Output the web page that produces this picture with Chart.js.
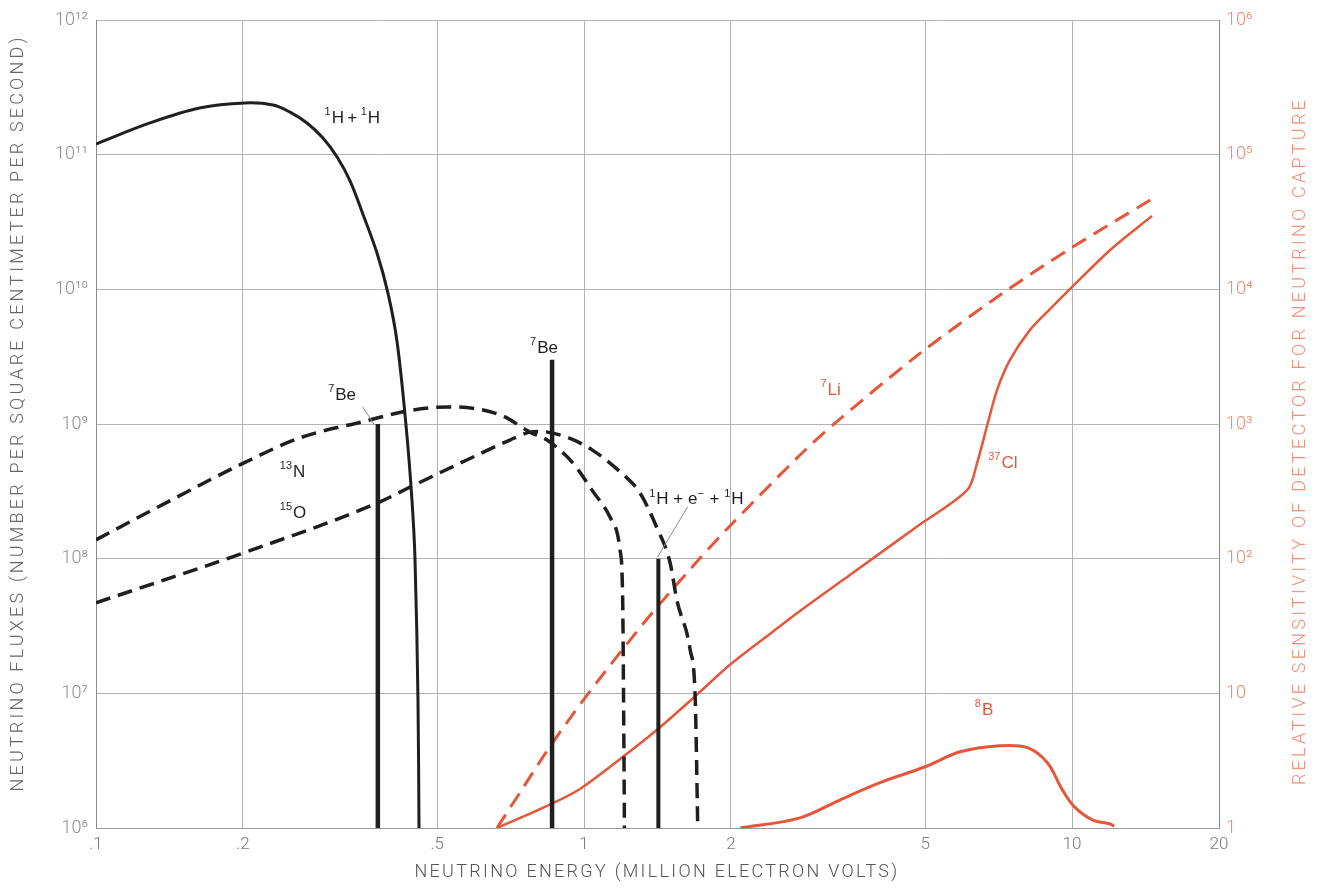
<!DOCTYPE html>
<html>
<head>
<meta charset="utf-8">
<script src="https://cdn.jsdelivr.net/npm/chart.js@4.4.1/dist/chart.umd.min.js"></script>
<style>
  html, body { margin: 0; padding: 0; background: #fff; }
  #wrap { width: 1318px; height: 894px; }
</style>
</head>
<body>
<div id="wrap"><canvas id="nuChart"></canvas></div>
<script>
// ---- axis ticks ----
var energyTicks = [0.1, 0.2, 0.5, 1, 2, 5, 10, 20];
var energyTickLabels = [".1", ".2", ".5", "1", "2", "5", "10", "20"];
var fluxTicks = [1e6, 1e7, 1e8, 1e9, 1e10, 1e11, 1e12];
var fluxTickLabels = ["10\u2076", "10\u2077", "10\u2078", "10\u2079", "10\u00b9\u2070", "10\u00b9\u00b9", "10\u00b9\u00b2"];
var sensTicks = [1, 10, 100, 1e3, 1e4, 1e5, 1e6];
var sensTickLabels = ["1", "10", "10\u00b2", "10\u00b3", "10\u2074", "10\u2075", "10\u2076"];

// ---- neutrino fluxes (left axis) ----
var ppEnergy = [0.1, 0.129, 0.163, 0.202, 0.2306, 0.2497, 0.2706, 0.2918, 0.3119, 0.3315, 0.3525, 0.3765, 0.3967, 0.4138, 0.4317, 0.4441, 0.4504, 0.4568, 0.459];
var ppFlux = [1.2e11, 1.72e11, 2.22e11, 2.42e11, 2.34e11, 2.07e11, 1.72e11, 1.33e11, 9.6e10, 6.4e10, 3.6e10, 1.86e10, 9.3e9, 4.1e9, 9.8e8, 2.7e8, 1e8, 9e6, 1e6];

var n13Energy = [0.1, 0.142, 0.2, 0.262, 0.352, 0.44, 0.53, 0.673, 0.775, 0.84, 0.95, 1.04, 1.13, 1.185, 1.2, 1.205, 1.21];
var n13Flux = [1.38e8, 2.7e8, 5.1e8, 7.9e8, 1.04e9, 1.26e9, 1.34e9, 1.17e9, 8.7e8, 7.6e8, 5.1e8, 3.2e8, 2.04e8, 1.16e8, 4.9e7, 9e6, 1e6];

var o15Energy = [0.1, 0.2, 0.378, 0.44, 0.575, 0.705, 0.775, 0.81, 0.92, 1.04, 1.17, 1.3, 1.41, 1.5, 1.55, 1.65, 1.69, 1.71];
var o15Flux = [4.7e7, 1.1e8, 2.6e8, 3.4e8, 5.4e8, 7.6e8, 8.7e8, 8.8e8, 8.0e8, 6.4e8, 4.6e8, 3.1e8, 1.7e8, 9.4e7, 4.9e7, 2.1e7, 8.9e6, 1e6];

var be7LineEnergy = [0.378, 0.86];
var be7LineFlux = [1e9, 3e9];
var pepLineEnergy = 1.42;
var pepLineFlux = 1e8;

var b8Energy = [2.09, 2.77, 3.35, 4.04, 5.0, 5.9, 7.1, 8.1, 8.9, 9.55, 10.1, 11.0, 11.97, 12.2];
var b8Flux = [1e6, 1.19e6, 1.62e6, 2.17e6, 2.85e6, 3.68e6, 4.08e6, 3.95e6, 3.05e6, 1.92e6, 1.44e6, 1.15e6, 1.07e6, 1.03e6];

// ---- detector sensitivity (right axis) ----
var li7Energy = [0.663, 0.75, 0.84, 0.95, 1.079, 1.225, 1.385, 1.729, 1.972, 2.771, 3.236, 4.835, 7.12, 9.81, 14.58];
var li7Sens = [1, 1.99, 3.74, 7.05, 13.0, 23.3, 40.3, 101, 169, 589, 985, 3.26e3, 9.08e3, 1.96e4, 4.69e4];

var cl37Energy = [0.663, 0.84, 0.981, 1.202, 1.411, 1.689, 1.99, 2.4, 2.81, 3.51, 4.83, 6.1, 6.38, 6.73, 7.02, 7.46, 8.2, 9.02, 9.86, 11.97, 14.58];
var cl37Sens = [1, 1.46, 1.95, 3.38, 5.36, 9.5, 16.3, 27.5, 42.4, 75.9, 175, 324, 506, 1.04e3, 1.79e3, 2.99e3, 5.0e3, 7.16e3, 9.9e3, 1.96e4, 3.51e4];

var BLACK = "#1f1f1f";
var RED = "#e4573a";
var TEXT_FONT = "'Liberation Sans', Arial, sans-serif";
var AXIS_FONT = "Roboto, 'Liberation Sans', sans-serif";

// labels on the curves, placed in data coordinates
var notes = [
  { text: "^{1}H\u2009+\u2009^{1}H", x: 0.294, y: 1.86e11, color: BLACK },
  { text: "^{7}Be", x: 0.299, y: 1.64e9, color: BLACK },
  { text: "^{13}N", x: 0.238, y: 4.4e8, color: BLACK },
  { text: "^{15}O", x: 0.238, y: 2.19e8, color: BLACK },
  { text: "^{7}Be", x: 0.775, y: 3.67e9, color: BLACK },
  { text: "^{1}H + e^{\u2212} + ^{1}H", x: 1.36, y: 2.74e8, color: BLACK },
  { text: "^{7}Li", x: 3.05, y: 1.79e9, color: RED },
  { text: "^{37}Cl", x: 6.73, y: 5.1e8, color: RED },
  { text: "^{8}B", x: 6.32, y: 7.5e6, color: RED }
];
var leaders = [
  { x1: 0.352, y1: 1.34e9, x2: 0.372, y2: 9.85e8 },
  { x1: 1.63, y1: 2.42e8, x2: 1.415, y2: 1.03e8 }
];

// axis titles: text, centre, span to fill, rotation
var axisTitles = [
  { text: "NEUTRINO ENERGY (MILLION ELECTRON VOLTS)", cx: 657, cy: 872, span: 485, rot: 0, color: "#555" },
  { text: "NEUTRINO FLUXES (NUMBER PER SQUARE CENTIMETER PER SECOND)", cx: 18, cy: 413, span: 757, rot: -Math.PI / 2, color: "#666" },
  { text: "RELATIVE SENSITIVITY OF DETECTOR FOR NEUTRINO CAPTURE", cx: 1300, cy: 441, span: 688, rot: -Math.PI / 2, color: "#f0907a" }
];

function pts(xs, ys) {
  return xs.map(function (v, i) { return { x: v, y: ys[i] }; });
}
function stem(x, top) {
  return [{ x: x, y: 1e6 }, { x: x, y: top }];
}

function drawRich(ctx, str, x, y, size, color) {
  var parts = str.split(/(\^\{[^}]*\})/);
  ctx.fillStyle = color;
  ctx.textBaseline = "middle";
  ctx.textAlign = "left";
  parts.forEach(function (p) {
    if (!p) return;
    if (p.indexOf("^{") === 0) {
      var s = p.slice(2, -1);
      ctx.font = Math.round(size * 0.62) + "px " + TEXT_FONT;
      ctx.fillText(s, x, y - size * 0.36);
      x += ctx.measureText(s).width + 1;
    } else {
      ctx.font = size + "px " + TEXT_FONT;
      ctx.fillText(p, x, y);
      x += ctx.measureText(p).width;
    }
  });
}

var notesPlugin = {
  id: "notes",
  afterDatasetsDraw: function (chart) {
    var ctx = chart.ctx, sx = chart.scales.x, sy = chart.scales.y;
    ctx.save();
    ctx.strokeStyle = "#8a8a8a";
    ctx.lineWidth = 1;
    leaders.forEach(function (l) {
      ctx.beginPath();
      ctx.moveTo(sx.getPixelForValue(l.x1), sy.getPixelForValue(l.y1));
      ctx.lineTo(sx.getPixelForValue(l.x2), sy.getPixelForValue(l.y2));
      ctx.stroke();
    });
    notes.forEach(function (n) {
      drawRich(ctx, n.text, sx.getPixelForValue(n.x), sy.getPixelForValue(n.y), 17, n.color);
    });
    ctx.restore();
  },
  afterDraw: function (chart) {
    var ctx = chart.ctx;
    axisTitles.forEach(function (t) {
      ctx.save();
      ctx.font = "300 18px " + AXIS_FONT;
      var w0 = ctx.measureText(t.text).width;
      ctx.letterSpacing = ((t.span - w0) / t.text.length).toFixed(2) + "px";
      ctx.translate(t.cx, t.cy);
      ctx.rotate(t.rot);
      ctx.fillStyle = t.color;
      ctx.textAlign = "center";
      ctx.textBaseline = "middle";
      ctx.fillText(t.text, 0, 0);
      ctx.restore();
    });
  }
};

function fixTicks(values) {
  return function (scale) {
    scale.ticks = values.map(function (v) { return { value: v }; });
  };
}

var chart = new Chart(document.getElementById("nuChart"), {
  type: "line",
  data: {
    datasets: [
      { label: "1H+1H", data: pts(ppEnergy, ppFlux), borderColor: BLACK, borderWidth: 3, yAxisID: "y", tension: 0.35 },
      { label: "13N", data: pts(n13Energy, n13Flux), borderColor: BLACK, borderWidth: 3.5, borderDash: [15, 8], yAxisID: "y", cubicInterpolationMode: "monotone" },
      { label: "15O", data: pts(o15Energy, o15Flux), borderColor: BLACK, borderWidth: 3.5, borderDash: [15, 8], yAxisID: "y", cubicInterpolationMode: "monotone" },
      { label: "7Be a", data: stem(be7LineEnergy[0], be7LineFlux[0]), borderColor: BLACK, borderWidth: 4.5, yAxisID: "y" },
      { label: "7Be b", data: stem(be7LineEnergy[1], be7LineFlux[1]), borderColor: BLACK, borderWidth: 4.5, yAxisID: "y" },
      { label: "pep", data: stem(pepLineEnergy, pepLineFlux), borderColor: BLACK, borderWidth: 4, yAxisID: "y" },
      { label: "8B", data: pts(b8Energy, b8Flux), borderColor: RED, borderWidth: 3, yAxisID: "y", tension: 0.35 },
      { label: "7Li", data: pts(li7Energy, li7Sens), borderColor: RED, borderWidth: 3, borderDash: [16, 9], yAxisID: "y2", tension: 0.3 },
      { label: "37Cl", data: pts(cl37Energy, cl37Sens), borderColor: RED, borderWidth: 2.5, yAxisID: "y2", tension: 0.3 }
    ]
  },
  options: {
    responsive: true,
    maintainAspectRatio: false,
    animation: false,
    devicePixelRatio: 1,
    layout: { padding: { top: 20 } },
    elements: {
      point: { radius: 0 },
      line: { fill: false, borderCapStyle: "butt" }
    },
    plugins: { legend: { display: false }, tooltip: { enabled: false } },
    scales: {
      x: {
        type: "logarithmic",
        position: "bottom",
        min: 0.1,
        max: 20,
        afterBuildTicks: fixTicks(energyTicks),
        afterFit: function (s) { s.height = 66; },
        ticks: {
          autoSkip: false,
          maxRotation: 0,
          padding: 7,
          color: "#7a7a7a",
          font: { family: AXIS_FONT, size: 17, weight: "300" },
          callback: function (v) { return energyTickLabels[energyTicks.indexOf(v)]; }
        },
        grid: { color: "#b3b3b3", lineWidth: 1, drawTicks: false },
        border: { color: "#9a9a9a" }
      },
      y: {
        type: "logarithmic",
        position: "left",
        min: 1e6,
        max: 1e12,
        afterBuildTicks: fixTicks(fluxTicks),
        afterFit: function (s) { s.width = 96; },
        ticks: {
          padding: 8,
          color: "#8f8f8f",
          font: { family: AXIS_FONT, size: 18, weight: "300" },
          callback: function (v) { return fluxTickLabels[fluxTicks.indexOf(v)]; }
        },
        grid: { color: "#b3b3b3", lineWidth: 1, drawTicks: false },
        border: { color: "#8a8a8a" }
      },
      y2: {
        type: "logarithmic",
        position: "right",
        min: 1,
        max: 1e6,
        afterBuildTicks: fixTicks(sensTicks),
        afterFit: function (s) { s.width = 99; },
        ticks: {
          padding: 7,
          color: "#ee8a72",
          font: { family: AXIS_FONT, size: 18, weight: "300" },
          callback: function (v) { return sensTickLabels[sensTicks.indexOf(v)]; }
        },
        grid: { drawOnChartArea: false, drawTicks: false },
        border: { color: "#8a8a8a" }
      }
    }
  },
  plugins: [notesPlugin]
});
</script>
</body>
</html>
